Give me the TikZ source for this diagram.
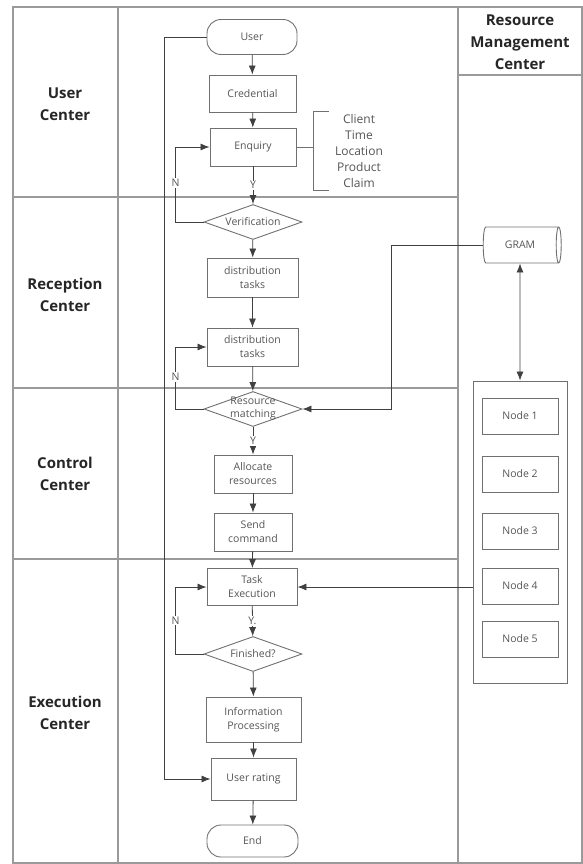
\documentclass[tikz,border=0pt]{standalone}
\usepackage{fontspec}
\setmainfont{Open Sans}
\usetikzlibrary{arrows.meta,shapes.geometric}
\definecolor{framegray}{HTML}{9A9A9A}
\definecolor{boxgray}{HTML}{707070}
\definecolor{textgray}{HTML}{555555}
\tikzset{
  lane/.style={font=\fontsize{15}{22}\selectfont\bfseries, text=black!85, align=center},
  box/.style={draw=boxgray, line width=0.9pt, text=textgray, align=center,
    font=\fontsize{10.5}{14}\selectfont, inner sep=2pt},
  term/.style={box, rounded corners=14pt},
  decision/.style={diamond, draw=boxgray, line width=0.9pt, inner sep=0pt,
    minimum width=98pt, minimum height=35pt},
  dtext/.style={text=textgray, align=center, font=\fontsize{10.5}{13}\selectfont, inner sep=0pt},
  flow/.style={draw=black!75, line width=0.8pt, -{Latex[length=9pt,width=7pt]}},
  yn/.style={fill=white, text=textgray, font=\fontsize{10.5}{12}\selectfont, inner sep=1pt}
}
\begin{document}
\begin{tikzpicture}[x=1pt,y=-1pt]
        \useasboundingbox (0,0) rectangle (583,864);

        % draw lanes
        \draw[framegray, line width=1.2pt] (13,7) rectangle (458,863);
        \draw[framegray, line width=1.2pt] (458,7) rectangle (582,863);
        \draw[framegray, line width=1.2pt] (458,75) -- (582,75);
        \draw[framegray, line width=1.2pt] (118,7) -- (118,863);
        \foreach \y in {197,388,559}
          \draw[framegray, line width=1.2pt] (13,\y) -- (458,\y);

        % lane titles
        \node[lane] (usercenter) at (65,104) {User\\Center};
        \node[lane] (recepcenter) at (65,295) {Reception\\Center};
        \node[lane] (ctrlcenter) at (65,474) {Control\\Center};
        \node[lane] (execcenter) at (65,713) {Execution\\Center};
        \node[lane] (rmcenter) at (520,42) {Resource\\Management\\Center};

        % draw flow nodes
        \node[term, minimum width=90pt, minimum height=35pt] (user) at (252,37) {User};
        \node[box, minimum width=87pt, minimum height=37pt] (cred) at (252.5,93.5) {Credential};
        \node[box, minimum width=86pt, minimum height=38pt] (enq) at (253,147) {Enquiry};
        \node[decision, label={[dtext]center:Verification}] (verif) at (253,222) {};
        \node[box, minimum width=91pt, minimum height=39pt] (dist1) at (252.5,277.5) {distribution\\tasks};
        \node[box, minimum width=91pt, minimum height=38pt] (dist2) at (252.5,347) {distribution\\tasks};
        \node[decision, label={[dtext]center:Resource\\matching}] (match) at (253,409) {};
        \node[box, minimum width=78pt, minimum height=38pt] (alloc) at (253,474) {Allocate\\resources};
        \node[box, minimum width=78pt, minimum height=38pt] (send) at (253,532) {Send\\command};
        \node[box, minimum width=90pt, minimum height=37pt] (exec) at (252,587) {Task\\Execution};
        \node[decision, label={[dtext]center:Finished?}] (fin) at (253,654) {};
        \node[box, minimum width=95pt, minimum height=45pt] (info) at (253.5,719.5) {Information\\Processing};
        \node[box, minimum width=85pt, minimum height=42pt] (rate) at (253.5,779) {User rating};
        \node[term, minimum width=91pt, minimum height=32pt] (endn) at (252.5,841) {End};

        % enquiry items
        \node[text=textgray, align=center, font=\fontsize{12}{16}\selectfont, inner sep=0pt,
              minimum width=90pt, minimum height=78pt] (items) at (359,151)
              {Client\\Time\\Location\\Product\\Claim};
        \draw[boxgray, line width=0.9pt] (enq.east) -- (enq.east -| items.west);
        \draw[boxgray, line width=0.9pt] ([xshift=15pt]items.north west) -- (items.north west)
              -- (items.south west) -- ([xshift=15pt]items.south west);

        % resource management
        \node[cylinder, draw=boxgray, line width=0.9pt, minimum width=36pt, minimum height=78pt,
              aspect=0.35, text=textgray, font=\fontsize{10.5}{12}\selectfont] (gram) at (520,245) {GRAM};
        \node[draw=boxgray, line width=0.9pt, minimum width=94pt, minimum height=302pt] (pool) at (520,532) {};
        \foreach \i/\y in {1/416,2/474,3/531,4/586,5/639}
          \node[box, minimum width=76pt, minimum height=36pt] (node\i) at (520,\y) {Node \i};

        % draw connectors
        \draw[flow] (user) -- (cred);
        \draw[flow] (cred) -- (enq);
        \draw[flow] (enq) -- node[yn] {Y} (verif);
        \draw[flow] (verif) -- (dist1);
        \draw[flow] (dist1) -- (dist2);
        \draw[flow] (dist2) -- (match);
        \draw[flow] (match) -- node[yn] {Y} (alloc);
        \draw[flow] (alloc) -- (send);
        \draw[flow] (send) -- (exec);
        \draw[flow] (exec) -- node[yn] {Y.} (fin);
        \draw[flow] (fin) -- (info);
        \draw[flow] (info) -- (rate);
        \draw[flow] (rate) -- (endn);

        % loops back
        \draw[flow] (verif.west) -- ++(-28,0) |- node[yn, pos=0.26] {N} (enq.west);
        \draw[flow] (match.west) -- ++(-28,0) |- node[yn, pos=0.26] {N} (dist2.west);
        \draw[flow] (fin.west) -- ++(-28,0) |- node[yn, pos=0.25] {N} (exec.west);
        \draw[flow] (user.west) -- ++(-42,0) |- (rate.west);

        % resource links
        \draw[flow] (gram.west) -- ++(-91,0) |- (match.east);
        \draw[flow, {Latex[length=9pt,width=7pt]}-{Latex[length=9pt,width=7pt]}] (gram.south) -- (pool.north);
        \draw[flow] (pool.west |- exec.east) -- (exec.east);
\end{tikzpicture}
\end{document}
